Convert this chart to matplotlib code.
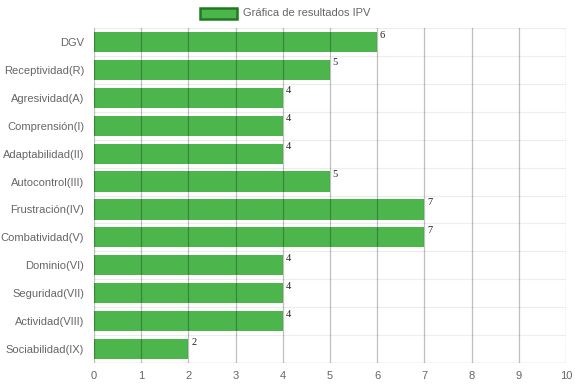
import matplotlib
matplotlib.use("Agg")
import matplotlib.pyplot as plt
from matplotlib.patches import Rectangle

categories = ["DGV", "Receptividad(R)", "Agresividad(A)", "Comprensión(I)", "Adaptabilidad(II)",
              "Autocontrol(III)", "Frustración(IV)", "Combatividad(V)", "Dominio(VI)",
              "Seguridad(VII)", "Actividad(VIII)", "Sociabilidad(IX)"]
values = [6, 5, 4, 4, 4, 5, 7, 7, 4, 4, 4, 2]
xticks = list(range(0, 11))
series_name = "Gráfica de resultados IPV"

plt.rcParams['font.family'] = ['Liberation Sans', 'DejaVu Sans']

W, H = 575, 387
fig = plt.figure(figsize=(W / 100, H / 100), dpi=100)
ax = fig.add_axes([94 / W, 1 - 363 / H, (566 - 94) / W, (363 - 28) / H])

n = len(categories)
ypos = list(range(n))
ax.barh(ypos, values, height=0.72, color="#4cb54c", zorder=2)
ax.set_ylim(n - 0.5, -0.5)
ax.set_xlim(0, 10)
ax.set_xticks(xticks)
ax.set_yticks(ypos)
ax.set_yticklabels(categories)
ax.tick_params(axis='both', colors="#666666", labelsize=8.0, length=0)
ax.tick_params(axis='x', pad=6)
ax.tick_params(axis='y', pad=7)
for lab in ax.get_xticklabels() + ax.get_yticklabels():
    lab.set_color("#666666")

# grid
for x in xticks:
    ax.axvline(x, color="#000000", alpha=0.25, lw=0.9, zorder=3)
for i in range(n + 1):
    ax.axhline(i - 0.5, color="#000000", alpha=0.07, lw=0.9, zorder=1)
ax.axhline(n - 0.5, color="#000000", alpha=0.25, lw=0.9, zorder=3)

for s in ax.spines.values():
    s.set_visible(False)

for y, v in zip(ypos, values):
    ax.annotate(str(v), (v, y - 0.36), xytext=(2, 1), textcoords="offset points",
                ha="left", va="top", fontsize=7.5, color="#222222", zorder=4,
                family=['Liberation Serif', 'DejaVu Serif'])

# legend
fig.patches.append(Rectangle((200 / W, 1 - 19 / H), 37 / W, 11 / H, transform=fig.transFigure,
                             facecolor="#4cb54c", edgecolor="#1e7a1e", lw=1.8))
fig.text(243 / W, 1 - 13.5 / H, series_name, ha="left", va="center", fontsize=8.0, color="#666666")

fig.savefig("out.png", dpi=100)
